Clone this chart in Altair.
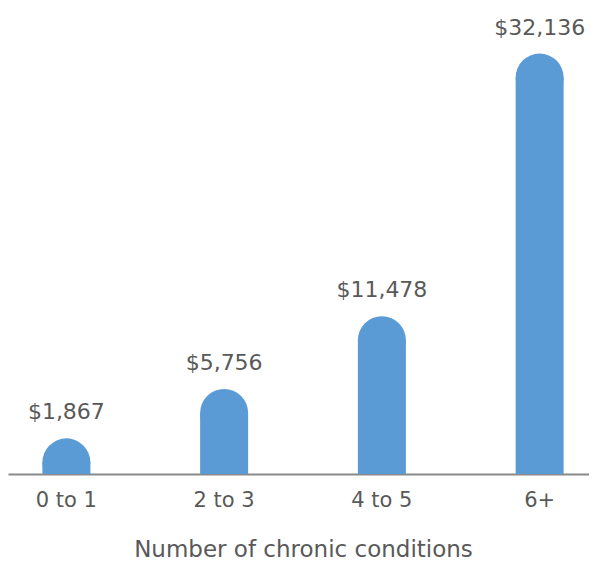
import altair as alt
import pandas as pd

categories = ["0 to 1", "2 to 3", "4 to 5", "6+"]
costs = [1867, 5756, 11478, 32136]
labels = ["$1,867", "$5,756", "$11,478", "$32,136"]

Y_MIN = -936
Y_MAX = 35722

df = pd.DataFrame({"cat": categories, "cost": costs, "label": labels})

FONT = "DejaVu Sans"
GREY = "#595959"
BLUE = "#5B9BD5"

x = alt.X("cat:N", sort=categories, title="Number of chronic conditions",
          scale=alt.Scale(paddingInner=0.3, paddingOuter=0.02, range=[0, 590]),
          axis=alt.Axis(labelAngle=0, ticks=False, domainColor="#8a8a8a", domainWidth=2,
                        labelFontSize=21, labelColor=GREY, labelFont=FONT, labelPadding=15,
                        titleFontSize=23, titleColor=GREY, titleFont=FONT, titleFontWeight="normal",
                        titlePadding=28, grid=False))
y = alt.Y("cost:Q", scale=alt.Scale(domain=[Y_MIN, Y_MAX], zero=False, nice=False), axis=None)

bars = alt.Chart(df).mark_bar(size=48, color=BLUE, yOffset=24, clip=True).encode(
    x=x, y=y, y2=alt.Y2(datum=Y_MIN))

caps = alt.Chart(df).mark_circle(size=2304, color=BLUE, opacity=1, yOffset=24,
                                 clip=True).encode(
    x=alt.X("cat:N", sort=categories), y=alt.Y("cost:Q"))

text = alt.Chart(df).mark_text(dy=-19, baseline="alphabetic", fontSize=22, font=FONT,
                               color=GREY).encode(
    x=alt.X("cat:N", sort=categories), y=alt.Y("cost:Q"), text="label:N")

chart = alt.layer(bars, caps, text).properties(
    width=581, height=466,
    autosize=alt.AutoSizeParams(type="none"),
    padding={"left": 0, "top": 0, "right": 0, "bottom": 86},
).configure_view(stroke=None)

chart.save("out.html", embed_options={"renderer": "svg", "actions": False})
